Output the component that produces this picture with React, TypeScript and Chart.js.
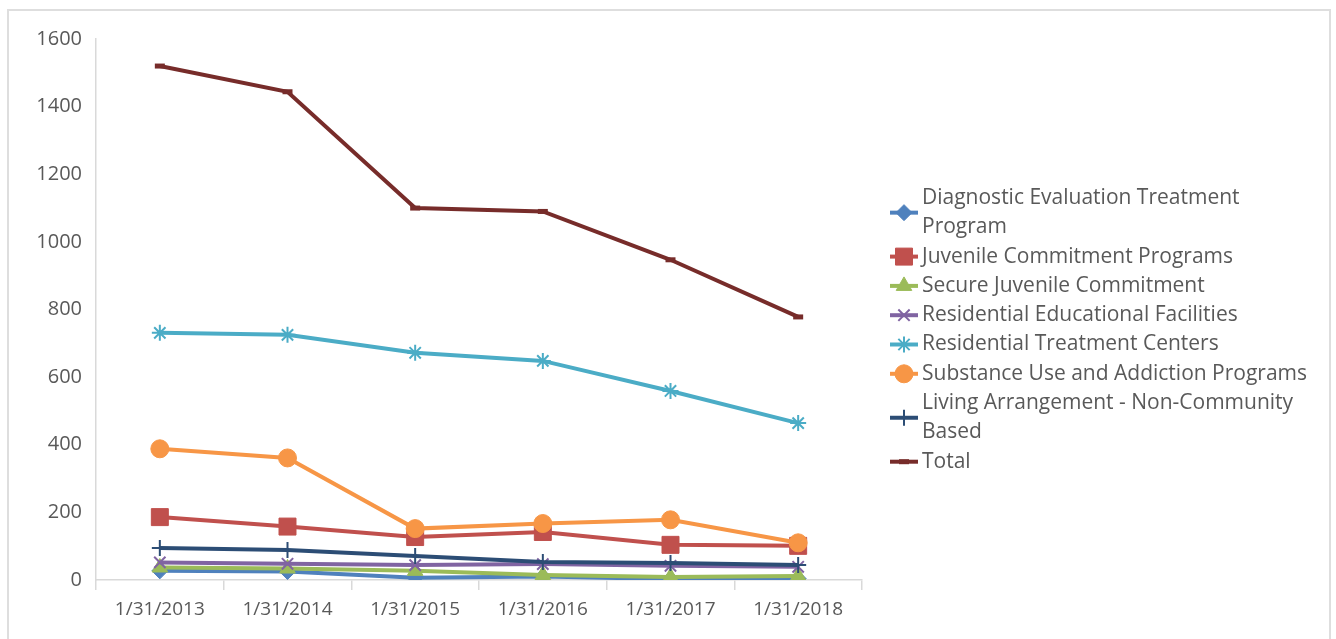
import React, { useEffect, useRef } from "react";
import { Chart, registerables } from "chart.js";
import { drawPoint } from "chart.js/helpers";

Chart.register(...registerables);

const categories = ["1/31/2013", "1/31/2014", "1/31/2015", "1/31/2016", "1/31/2017", "1/31/2018"];

const diagnosticEval = [27, 25, 7, 10, 3, 4];
const juvenileCommitment = [186, 158, 127, 142, 104, 101];
const secureJuvenile = [37, 34, 27, 15, 9, 12];
const residentialEducational = [52, 48, 44, 47, 42, 39];
const residentialTreatment = [731, 725, 672, 648, 559, 464];
const substanceUse = [388, 361, 152, 167, 178, 110];
const livingArrangement = [95, 89, 71, 53, 50, 44];
const total = [1520, 1444, 1100, 1090, 947, 778];

const yTicks = [0, 200, 400, 600, 800, 1000, 1200, 1400, 1600];

const seriesNames = [
  ["Diagnostic Evaluation Treatment", "Program"],
  ["Juvenile Commitment Programs"],
  ["Secure Juvenile Commitment"],
  ["Residential Educational Facilities"],
  ["Residential Treatment Centers"],
  ["Substance Use and Addiction Programs"],
  ["Living Arrangement - Non-Community", "Based"],
  ["Total"],
];

const FONT = '"Open Sans", sans-serif';
const TEXT_COLOR = "#595959";
const AXIS_COLOR = "#d9d9d9";

type SeriesStyle = {
  color: string;
  pointStyle: string;
  radius: number;
  pointBorderWidth: number;
};

const styles: SeriesStyle[] = [
  { color: "#4F81BD", pointStyle: "rectRot", radius: 8, pointBorderWidth: 1 },
  { color: "#C0504D", pointStyle: "rect", radius: 12, pointBorderWidth: 1 },
  { color: "#9BBB59", pointStyle: "triangle", radius: 9, pointBorderWidth: 1 },
  { color: "#8064A2", pointStyle: "crossRot", radius: 8, pointBorderWidth: 2 },
  { color: "#4BACC6", pointStyle: "star", radius: 8, pointBorderWidth: 2 },
  { color: "#F79646", pointStyle: "circle", radius: 9, pointBorderWidth: 1 },
  { color: "#2C4D75", pointStyle: "cross", radius: 8, pointBorderWidth: 2 },
  { color: "#772C2A", pointStyle: "line", radius: 5, pointBorderWidth: 5 },
];

const seriesData = [
  diagnosticEval,
  juvenileCommitment,
  secureJuvenile,
  residentialEducational,
  residentialTreatment,
  substanceUse,
  livingArrangement,
  total,
];

const frameAndLegend = {
  id: "frameAndLegend",
  beforeDraw(chart: any) {
    const ctx = chart.ctx;
    ctx.save();
    ctx.strokeStyle = "#dedede";
    ctx.lineWidth = 2;
    ctx.beginPath();
    ctx.moveTo(8, 660);
    ctx.lineTo(8, 10);
    ctx.lineTo(1330, 10);
    ctx.lineTo(1330, 660);
    ctx.stroke();
    ctx.restore();
  },
  afterDraw(chart: any) {
    const ctx = chart.ctx;
    const lineH = 29.3;
    const markerX = 904;
    const textX = 922;
    let y = 198;
    ctx.save();
    ctx.font = `21px ${FONT}`;
    ctx.textBaseline = "middle";
    ctx.textAlign = "left";
    seriesNames.forEach((lines, i) => {
      const st = styles[i];
      const cy = y + ((lines.length - 1) * lineH) / 2;
      ctx.strokeStyle = st.color;
      ctx.lineWidth = 4;
      ctx.beginPath();
      ctx.moveTo(890, cy);
      ctx.lineTo(918, cy);
      ctx.stroke();
      ctx.fillStyle = st.color;
      ctx.strokeStyle = st.color;
      ctx.lineWidth = st.pointBorderWidth;
      drawPoint(
        ctx,
        { pointStyle: st.pointStyle as any, radius: st.radius, borderWidth: st.pointBorderWidth, rotation: 0 },
        markerX,
        cy
      );
      ctx.fillStyle = TEXT_COLOR;
      lines.forEach((t, j) => ctx.fillText(t, textX, y + j * lineH));
      y += lines.length * lineH;
    });
    ctx.restore();
  },
};

export default function App() {
  const canvasRef = useRef<HTMLCanvasElement | null>(null);

  useEffect(() => {
    if (!canvasRef.current) return;
    const n = seriesData.length;
    const chart = new Chart(canvasRef.current, {
      type: "line",
      data: {
        labels: categories,
        datasets: seriesData.map((d, i) => ({
          label: seriesNames[i].join(" "),
          data: d,
          borderColor: styles[i].color,
          backgroundColor: styles[i].color,
          borderWidth: 4,
          pointStyle: styles[i].pointStyle as any,
          pointRadius: styles[i].radius,
          pointHoverRadius: styles[i].radius,
          pointBorderWidth: styles[i].pointBorderWidth,
          pointBackgroundColor: styles[i].color,
          pointBorderColor: styles[i].color,
          tension: 0,
          order: n - i,
        })),
      },
      options: {
        animation: false,
        responsive: false,
        maintainAspectRatio: false,
        layout: { padding: { left: 0, right: 474, top: 39, bottom: 0 } },
        plugins: {
          legend: { display: false },
          tooltip: { enabled: false },
        },
        scales: {
          x: {
            offset: true,
            grid: {
              offset: true,
              drawOnChartArea: false,
              drawTicks: true,
              tickLength: 10,
              color: AXIS_COLOR,
              lineWidth: 1.5,
            },
            border: { display: true, color: AXIS_COLOR, width: 1.5 },
            ticks: {
              color: TEXT_COLOR,
              font: { family: FONT, size: 19 },
              padding: 8,
              maxRotation: 0,
              autoSkip: false,
            },
            afterFit: (scale: any) => {
              scale.height = 59;
            },
          },
          y: {
            min: 0,
            max: 1600,
            afterBuildTicks: (scale: any) => {
              scale.ticks = yTicks.map((v) => ({ value: v }));
            },
            grid: { display: false, drawTicks: false },
            border: { display: true, color: AXIS_COLOR, width: 1.5 },
            ticks: {
              color: TEXT_COLOR,
              font: { family: FONT, size: 20 },
              padding: 14,
              callback: (v: any) => String(v),
            },
            afterFit: (scale: any) => {
              scale.width = 96;
            },
          },
        },
      },
      plugins: [frameAndLegend],
    });
    return () => chart.destroy();
  }, []);

  return (
    <div style={{ position: "absolute", left: 0, top: 0, width: 1336, height: 639, background: "#fff" }}>
      <canvas ref={canvasRef} width={1336} height={639} style={{ width: 1336, height: 639 }} />
    </div>
  );
}
